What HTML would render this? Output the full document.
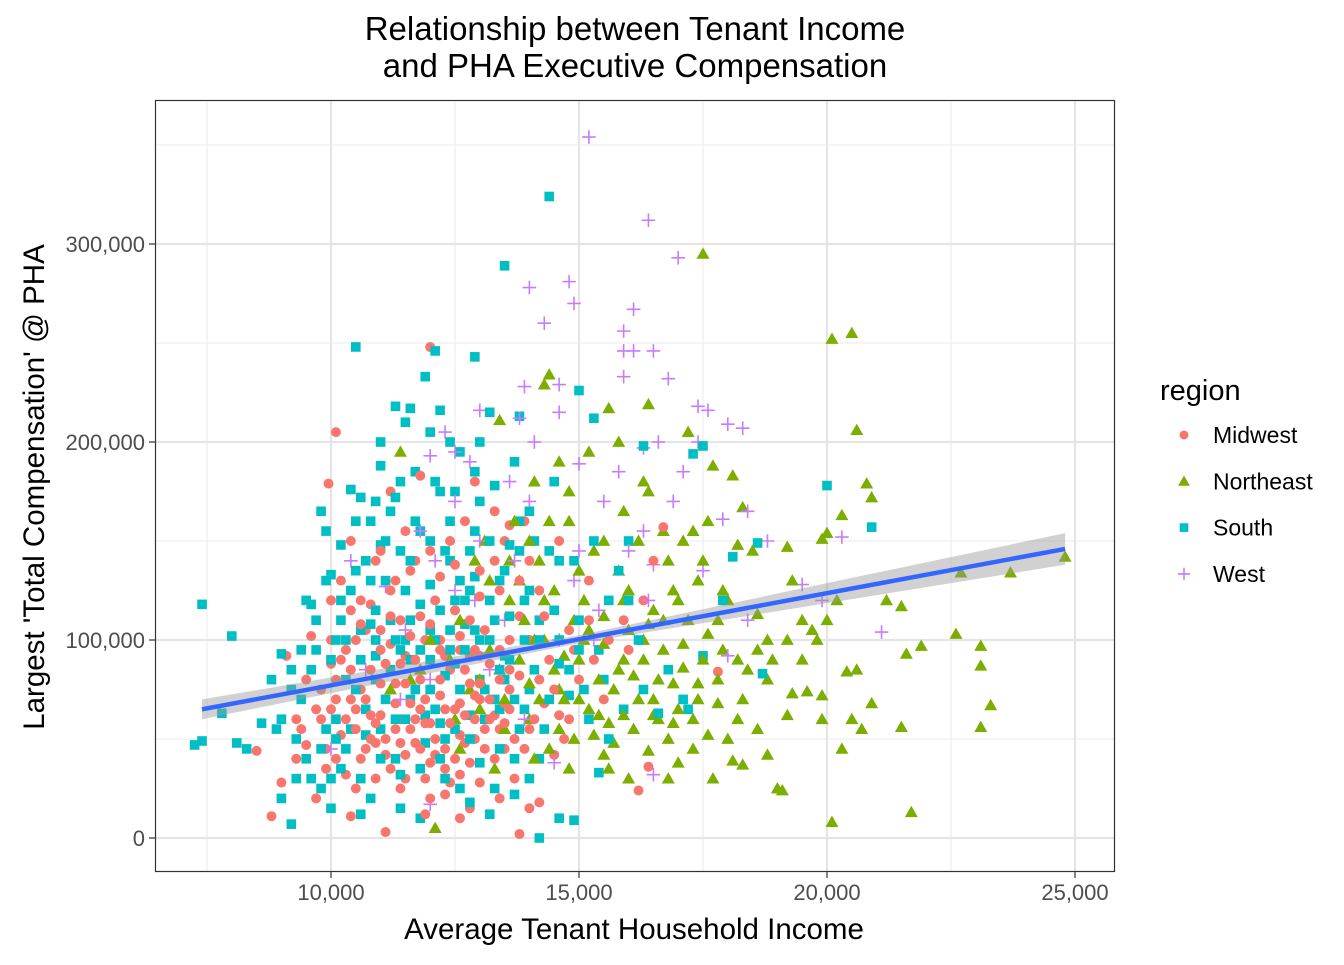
<!DOCTYPE html>
<html><head><meta charset="utf-8">
<style>
body{margin:0;background:#fff;}
svg text{font-family:"Liberation Sans",Arial,sans-serif;}
</style></head>
<body>
<svg id="chart" width="1344" height="960" viewBox="0 0 1344 960" xmlns="http://www.w3.org/2000/svg">
<rect x="0" y="0" width="1344" height="960" fill="#fff"/>
<text x="635" y="40" font-size="33" text-anchor="middle" fill="#000">Relationship between Tenant Income</text>
<text x="635" y="77" font-size="33" text-anchor="middle" fill="#000">and PHA Executive Compensation</text>
<g id="grid"></g>
<g id="points"></g>
<g id="fit"></g>
<rect x="155.5" y="100.5" width="959" height="771" fill="none" stroke="#333" stroke-width="1.2"/>
<g id="axes"></g>
<text x="634" y="939" font-size="29.5" text-anchor="middle" fill="#000">Average Tenant Household Income</text>
<text transform="translate(44,487) rotate(-90)" font-size="29.5" text-anchor="middle" fill="#000">Largest 'Total Compensation' @ PHA</text>
<g id="legend">
<text x="1160" y="400" font-size="29" fill="#000">region</text>
</g>
</svg>
<script>
const xTicks=[10000,15000,20000,25000];
const xTickLabels=["10,000","15,000","20,000","25,000"];
const yTicks=[0,100000,200000,300000];
const yTickLabels=["0","100,000","200,000","300,000"];
const xMinor=[7500,12500,17500,22500];
const yMinor=[50000,150000,250000,350000];
const regions=["Midwest","Northeast","South","West"];
const colors=["#F8766D","#7CAE00","#00BFC4","#C77CFF"];
// values in thousands: [income, compensation]
const midwestPts=[[12.0,248],[10.1,205],[9.95,179],[11.2,175],[11.8,183],[12.9,180],[13.3,165],[13.6,158],[13.9,160],[16.7,157],[16.4,36],[16.2,24],[17.8,84],[13.8,2],[11.1,3],[8.8,11],[9.0,28],[10.4,11],[12.6,10],[14.2,18],[14.0,15],[8.5,44],[9.1,92],[9.3,60],[9.5,47],[9.7,20],[9.9,35],[10.0,120],[10.2,130],[10.3,95],[10.4,70],[10.5,55],[10.6,40],[10.7,105],[10.8,85],[10.9,30],[11.0,62],[11.0,145],[11.1,50],[11.2,112],[11.3,78],[11.4,25],[11.5,92],[11.6,68],[11.7,140],[11.8,45],[11.9,100],[12.0,58],[12.1,120],[12.2,80],[12.3,35],[12.4,150],[12.5,65],[12.6,95],[12.7,48],[12.8,110],[12.9,72],[13.0,135],[13.1,55],[13.2,88],[13.3,40],[13.4,125],[13.5,68],[13.6,100],[13.7,30],[13.8,82],[14.0,140],[14.1,60],[14.3,112],[14.5,75],[14.7,50],[14.9,95],[15.2,130],[15.5,70],[15.9,110],[16.5,140],[10.1,80],[10.6,120],[11.3,130],[11.9,70],[12.2,100],[12.7,85],[13.1,105],[10.8,62],[11.5,42],[12.4,28],[9.6,102],[9.8,75],[10.3,60],[11.7,90],[12.0,20],[12.9,60],[13.5,45],[14.4,90],[11.0,95],[12.5,115],[10.5,100],[11.4,60],[12.3,65],[13.0,92],[10.2,52],[10.9,48],[11.2,35],[11.6,55],[12.1,42],[12.8,38],[13.4,55],[11.9,30],[12.6,52],[10.7,70],[11.8,65],[12.9,95],[13.6,75],[14.2,80],[10.4,85],[11.1,88],[12.3,92],[9.4,55],[10.0,65],[11.5,78]];
const midwestExtra=[[10.0,100],[10.2,90],[10.4,115],[10.6,108],[10.8,118],[11.0,105],[11.2,98],[11.4,110],[11.6,102],[11.8,112],[12.0,108],[12.2,95],[12.4,85],[12.6,102],[12.8,92],[13.0,78],[13.2,70],[13.4,95],[13.6,85],[13.8,112],[10.1,40],[10.3,32],[10.5,25],[10.7,45],[10.9,58],[11.1,42],[11.3,55],[11.5,30],[11.7,48],[11.9,58],[12.1,50],[12.3,45],[12.5,40],[12.7,62],[12.9,50],[13.1,45],[13.3,62],[13.5,58],[13.7,50],[13.9,45],[9.8,60],[9.9,45],[10.0,88],[10.6,75],[11.0,78],[11.4,88],[11.8,80],[12.2,72],[12.6,68],[13.0,70],[13.4,80],[14.0,100],[14.3,68],[14.6,62],[14.8,105],[15.0,80],[15.3,90],[15.6,100],[16.0,95],[16.3,120],[11.2,125],[11.6,135],[12.0,145],[12.5,138],[13.0,122],[13.3,140],[13.8,130],[14.2,125],[14.6,150],[10.4,150],[10.9,140],[11.5,155],[12.7,160],[12.2,132],[13.5,150],[10.1,70],[10.5,65],[11.3,68],[11.7,60],[12.4,58],[12.8,78],[13.2,60],[13.6,65],[14.0,55],[9.5,80],[9.3,40],[9.7,65],[10.8,50],[11.4,48],[12.0,38],[12.6,32],[13.0,28],[13.4,20],[14.5,42],[11.9,12],[12.3,22],[12.8,15],[14.8,60],[15.2,110]];
const northeastPts=[[17.5,295],[20.5,255],[20.1,252],[20.6,206],[14.4,234],[14.3,229],[15.6,217],[16.4,219],[17.2,205],[13.4,211],[11.4,195],[17.7,188],[18.1,183],[18.3,167],[19.9,151],[20.3,163],[20.8,179],[20.9,172],[20.0,154],[22.7,134],[23.7,134],[24.8,142],[21.2,120],[21.5,117],[21.6,93],[21.9,97],[22.6,103],[23.1,97],[23.1,87],[23.3,67],[23.1,56],[21.5,56],[21.7,13],[20.1,8],[20.9,68],[20.4,84],[20.5,60],[20.7,55],[20.3,45],[19.9,60],[19.9,72],[19.6,74],[19.3,73],[19.2,62],[19.0,25],[19.1,24],[18.8,42],[18.3,37],[18.1,39],[17.7,30],[17.0,38],[16.0,30],[15.5,42],[15.9,62],[16.4,44],[16.8,50],[17.4,70],[17.8,80],[18.2,90],[18.6,95],[18.9,90],[19.2,100],[19.5,110],[18.6,113],[18.0,120],[17.5,140],[16.9,125],[16.5,115],[16.0,105],[15.5,98],[15.0,90],[14.5,85],[14.0,78],[13.5,70],[13.0,65],[12.5,60],[12.1,5],[13.6,120],[14.2,140],[14.8,160],[15.3,145],[15.8,135],[16.2,150],[16.8,140],[17.3,155],[18.5,145],[19.2,147],[17.6,103],[17.1,86],[16.3,90],[15.7,75],[15.2,65],[14.6,55],[14.1,100],[13.2,95],[12.6,110],[11.8,85],[16.5,70],[17.3,60],[15.1,120],[16.6,60],[18.3,70],[19.7,105],[14.9,110],[15.4,80],[16.1,82],[16.7,95],[17.2,110],[14.3,120],[13.8,130],[15.9,120],[17.9,125],[16.9,78],[14.7,70],[15.6,58]];
const northeastExtra=[[13.2,130],[13.6,140],[14.0,150],[14.4,160],[14.8,175],[15.2,195],[15.5,150],[15.9,165],[16.3,180],[16.7,155],[17.1,150],[17.6,160],[18.2,148],[13.9,110],[14.3,100],[14.7,92],[15.1,100],[15.5,112],[15.9,90],[16.3,100],[16.7,110],[17.1,98],[17.5,90],[17.9,95],[18.4,85],[18.8,80],[13.4,85],[13.8,90],[14.2,70],[14.6,75],[15.0,70],[15.4,62],[15.8,85],[16.2,70],[16.6,80],[17.0,65],[17.4,78],[17.8,68],[18.2,60],[18.6,55],[13.0,80],[13.5,55],[14.0,60],[14.4,45],[14.9,50],[15.3,52],[15.7,48],[16.1,55],[16.5,62],[16.9,58],[17.3,45],[17.6,52],[18.0,50],[12.8,75],[12.4,90],[12.0,100],[11.6,80],[11.2,75],[12.6,45],[13.3,35],[14.1,40],[14.8,35],[15.6,35],[16.8,30],[19.5,90],[19.8,100],[20.2,120],[20.6,85],[20.0,110],[19.3,130],[15.0,135],[16.0,125],[17.0,120],[14.5,125],[13.1,150],[12.9,140],[13.7,160],[14.1,180],[14.6,190],[15.8,200],[16.4,175],[17.4,130],[18.8,100],[15.2,105],[16.4,108],[17.8,110]];
const southPts=[[14.4,324],[13.5,289],[10.5,248],[12.1,246],[12.9,243],[11.9,233],[11.3,218],[11.6,217],[12.2,216],[13.2,215],[13.8,213],[15.0,226],[15.3,212],[16.3,198],[17.5,198],[17.3,194],[20.0,178],[20.9,157],[18.1,142],[18.6,149],[18.7,83],[17.1,70],[16.3,75],[7.4,118],[7.25,47],[7.4,49],[8.0,102],[7.8,63],[8.1,48],[8.3,45],[8.6,58],[8.8,80],[9.0,93],[9.2,7],[9.0,20],[9.3,30],[9.5,40],[9.5,120],[9.7,110],[9.8,165],[9.9,155],[10.0,133],[10.2,148],[10.4,176],[10.6,172],[10.8,160],[11.0,188],[11.2,165],[11.4,180],[11.6,140],[11.8,155],[12.0,128],[12.2,175],[12.4,160],[12.6,195],[12.8,145],[13.0,170],[13.2,150],[13.4,130],[13.6,112],[13.8,160],[14.0,125],[14.2,100],[14.4,145],[14.6,140],[14.8,85],[15.0,110],[15.2,60],[15.4,95],[15.6,50],[15.8,135],[16.0,120],[16.6,63],[17.2,65],[14.6,10],[14.9,9],[14.2,0],[11.8,10],[12.3,30],[13.3,25],[10.3,45],[10.6,90],[10.8,20],[11.1,70],[11.3,40],[11.6,110],[12.0,90],[12.3,50],[12.6,75],[12.9,105],[13.1,60],[13.4,85],[13.7,40],[9.4,70],[9.6,85],[9.9,55],[10.1,100],[10.4,125],[10.9,115],[11.4,95],[12.1,65],[12.7,120],[13.0,80],[13.9,65],[14.3,55],[15.4,33],[13.7,22],[11.5,125],[10.7,140],[12.4,105],[9.2,75],[8.9,55],[10.0,30],[10.2,110],[10.5,75],[10.9,100],[11.2,85],[11.7,75],[12.2,115],[12.5,88],[12.8,62],[13.2,100],[13.5,92],[14.1,85],[14.5,115],[10.1,60],[10.7,52],[11.1,130],[11.9,48],[12.4,140],[13.6,148],[11.5,60],[12.9,132],[9.7,95],[10.3,80],[11.3,100],[12.0,105],[12.7,95],[13.3,70],[11.8,118],[10.8,108],[11.0,148],[12.3,82]];
const southExtra=[[9.6,118],[9.9,130],[10.2,120],[10.5,135],[10.8,130],[11.1,150],[11.4,145],[11.7,160],[12.0,150],[12.3,145],[12.6,130],[12.9,155],[13.2,120],[13.5,135],[13.8,145],[14.1,150],[10.0,90],[10.3,100],[10.6,105],[10.9,92],[11.2,110],[11.5,100],[11.8,95],[12.1,100],[12.4,95],[12.7,108],[13.0,100],[13.3,110],[13.6,90],[13.9,100],[14.2,110],[14.6,100],[9.8,45],[10.1,50],[10.4,55],[10.7,65],[11.0,55],[11.3,60],[11.6,70],[11.9,62],[12.2,58],[12.5,55],[12.8,50],[13.1,75],[13.4,65],[13.7,70],[14.0,75],[14.4,70],[14.8,72],[15.1,75],[10.2,35],[10.6,30],[11.0,40],[11.4,32],[11.8,35],[12.2,40],[12.6,25],[13.0,38],[13.4,45],[13.8,55],[14.2,40],[10.5,160],[10.9,170],[11.3,172],[11.7,185],[12.1,180],[12.5,175],[12.9,185],[13.3,178],[13.7,190],[11.0,200],[11.5,210],[12.0,205],[12.4,200],[13.0,200],[9.4,95],[9.2,85],[9.0,60],[9.3,50],[9.6,30],[9.8,25],[10.0,15],[10.6,12],[11.4,15],[12.8,18],[13.2,12],[14.0,30],[14.6,88],[15.0,95],[15.5,80],[15.9,65],[16.2,100],[16.8,85],[17.5,92],[17.9,120],[15.6,120],[14.9,140],[15.3,150],[16.0,150],[14.0,165],[14.5,180],[13.9,120],[12.8,125],[11.6,90],[10.9,80],[12.0,75],[12.5,120],[13.5,80]];
const westPts=[[15.2,354],[16.4,312],[17.0,293],[14.8,281],[14.0,278],[14.9,270],[16.1,267],[14.3,260],[15.9,256],[15.9,246],[16.1,246],[16.5,246],[16.8,232],[15.9,233],[13.9,228],[14.6,229],[17.4,218],[17.6,216],[18.3,207],[18.0,209],[14.6,215],[13.0,216],[13.8,212],[14.1,200],[15.0,189],[12.3,205],[12.0,193],[12.8,190],[16.3,197],[16.6,200],[16.9,170],[17.4,200],[17.1,185],[17.9,161],[18.8,150],[18.4,165],[16.3,155],[15.8,185],[15.5,170],[14.0,170],[15.0,145],[12.5,170],[13.0,150],[12.1,140],[11.1,127],[10.4,140],[20.3,152],[19.5,128],[19.9,120],[21.1,104],[18.4,110],[18.0,92],[16.5,138],[16.4,120],[15.4,115],[14.6,100],[13.5,110],[12.5,125],[11.5,105],[10.0,45],[12.0,17],[14.5,38],[16.5,32],[15.3,100],[13.9,60],[13.2,85],[17.5,135],[16.0,145],[14.9,130],[13.7,140],[12.9,120],[12.0,80],[11.4,70],[10.7,85],[13.6,180],[12.5,195],[11.8,155]];
const fitX=[7.4,24.8];
const fitY=[65,146];
const bandHalf=[5,2,8];
const bandX=[7.4,15.0,24.8];

const NS="http://www.w3.org/2000/svg";
const L=155,R=1115,T=100,B=872;
function sx(v){return 331+(v-10000)*0.0496;}
function sy(v){return 838-v*0.00198;}
function mk(tag,attrs,parent){const e=document.createElementNS(NS,tag);for(const k in attrs)e.setAttribute(k,attrs[k]);parent.appendChild(e);return e;}
const grid=document.getElementById('grid');
xMinor.forEach(v=>{const l=mk('line',{x1:sx(v),x2:sx(v),y1:T,y2:B,stroke:'#ebebeb','stroke-width':1},grid);});
yMinor.forEach(v=>{const l=mk('line',{x1:L,x2:R,y1:sy(v),y2:sy(v),stroke:'#ebebeb','stroke-width':1},grid);});
xTicks.forEach(v=>{const l=mk('line',{x1:sx(v),x2:sx(v),y1:T,y2:B,stroke:'#e5e5e5','stroke-width':2.2},grid);});
yTicks.forEach(v=>{const l=mk('line',{x1:L,x2:R,y1:sy(v),y2:sy(v),stroke:'#e5e5e5','stroke-width':2.2},grid);});
const axes=document.getElementById('axes');
xTicks.forEach((v,i)=>{const t=mk('line',{x1:sx(v),x2:sx(v),y1:B,y2:B+6,stroke:'#333','stroke-width':1.2},axes);
const tx=mk('text',{x:sx(v),y:B+28,'font-size':22,'text-anchor':'middle',fill:'#4d4d4d'},axes);tx.textContent=xTickLabels[i];});
yTicks.forEach((v,i)=>{const t=mk('line',{x1:L-6,x2:L,y1:sy(v),y2:sy(v),stroke:'#333','stroke-width':1.2},axes);
const tx=mk('text',{x:L-10,y:sy(v)+8,'font-size':22,'text-anchor':'end',fill:'#4d4d4d'},axes);tx.textContent=yTickLabels[i];});

function drawShape(k,cx,cy,parent,s){
  const c=colors[k];let e;
  if(k===0){e=mk('circle',{cx:cx,cy:cy,r:5*s,fill:c},parent);}
  else if(k===1){const h=6.5*s;e=mk('polygon',{points:`${cx},${cy-h} ${cx+h*1.0},${cy+h*0.75} ${cx-h*1.0},${cy+h*0.75}`,fill:c},parent);}
  else if(k===2){const h=4.8*s;e=mk('rect',{x:cx-h,y:cy-h,width:2*h,height:2*h,fill:c},parent);}
  else {const h=6.8*s;e=mk('path',{d:`M${cx-h},${cy}H${cx+h}M${cx},${cy-h}V${cy+h}`,stroke:c,'stroke-width':1.6,fill:'none'},parent);}
  return e;
}
const pts=document.getElementById('points');
const allSets=[midwestPts.concat(midwestExtra),northeastPts.concat(northeastExtra),southPts.concat(southExtra),westPts];
// interleave draw order roughly like the data
const order=[];
allSets.forEach((arr,k)=>arr.forEach((p,i)=>order.push([k,p,(i*37+k*11)%97])));
order.sort((a,b)=>a[2]-b[2]);
order.forEach(o=>{const k=o[0],p=o[1];
  const e=drawShape(k,sx(p[0]*1000),sy(p[1]*1000),pts,1);
  
  
});
const fit=document.getElementById('fit');
function fy(x){return fitY[0]+(fitY[1]-fitY[0])*(x-fitX[0])/(fitX[1]-fitX[0]);}
let up=[],dn=[];
bandX.forEach((x,i)=>{up.push(`${sx(x*1000)},${sy((fy(x)+bandHalf[i])*1000)}`);dn.unshift(`${sx(x*1000)},${sy((fy(x)-bandHalf[i])*1000)}`);});
const bp=mk('polygon',{points:up.concat(dn).join(' '),fill:'#999','fill-opacity':0.45},fit);


const fl=mk('line',{x1:sx(fitX[0]*1000),y1:sy(fitY[0]*1000),x2:sx(fitX[1]*1000),y2:sy(fitY[1]*1000),stroke:'#3366FF','stroke-width':4.5},fit);


const lg=document.getElementById('legend');
regions.forEach((r,k)=>{const y=435+k*46.3;
  const e=drawShape(k,1184,y,lg,0.9);
  
  
  const t=mk('text',{x:1213,y:y+8,'font-size':23,fill:'#000'},lg);t.textContent=r;
  
  
});
</script>
</body></html>
